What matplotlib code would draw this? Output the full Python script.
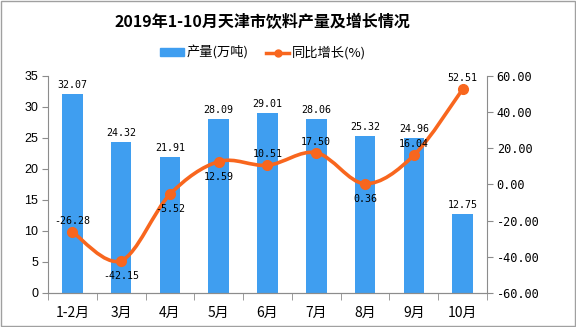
import numpy as np
import matplotlib
matplotlib.use("Agg")
from matplotlib import pyplot as plt
from matplotlib.path import Path
from matplotlib.patches import PathPatch, Rectangle
from matplotlib.lines import Line2D

plt.rcParams['font.family'] = ['Noto Sans CJK SC', 'DejaVu Sans']
plt.rcParams['axes.unicode_minus'] = False

# 数据
months = ["1-2月", "3月", "4月", "5月", "6月", "7月", "8月", "9月", "10月"]
output = [32.07, 24.32, 21.91, 28.09, 29.01, 28.06, 25.32, 24.96, 12.75]
growth = [-26.28, -42.15, -5.52, 12.59, 10.51, 17.50, 0.36, 16.04, 52.51]
# 增长率标签的位置: 上方/下方
growth_pos = ["up", "down", "down", "down", "up", "up", "down", "up", "up"]

bar_color = "#3F9EF0"
line_color = "#F8661E"
axis_color = "#8C8C8C"
num_font = "DejaVu Sans Mono"

fig = plt.figure(figsize=(5.76, 3.27), dpi=100)
ax = fig.add_axes([0.0833, 0.104, 0.7622, 0.6645])
ax2 = ax.twinx()

x = np.arange(len(months))
ax.bar(x, output, width=0.42, color=bar_color, zorder=2)
for xi, v in zip(x, output):
    ax.annotate("%.2f" % v, (xi, v), xytext=(0, 4), textcoords="offset pixels",
                ha="center", va="bottom", fontsize=7.2, family=num_font)

ax.set_xlim(-0.5, len(months) - 0.5)
ax.set_ylim(0, 35)
ax.set_yticks(range(0, 36, 5))
ax.set_xticks(x)
ax.set_xticklabels(months, fontsize=10)
ax.set_xticks(np.arange(-0.5, len(months), 1), minor=True)
ax.tick_params(axis="x", which="major", length=0, pad=9)
ax.tick_params(axis="x", which="minor", length=5, color=axis_color, direction="out")
ax.tick_params(axis="y", length=4, color=axis_color, pad=3)
for t in ax.get_yticklabels():
    t.set_family("Liberation Sans")
    t.set_fontsize(9)

ax2.set_ylim(-60, 60)
ax2.set_yticks(range(-60, 61, 20))
ax2.set_yticklabels(["%.2f" % t for t in range(-60, 61, 20)], family=num_font, fontsize=8.6)
ax2.tick_params(axis="y", length=4, color=axis_color, pad=3)

for a in (ax, ax2):
    a.spines["top"].set_visible(False)
    for s in ("left", "right", "bottom"):
        a.spines[s].set_color(axis_color)
ax.spines["right"].set_visible(False)
ax2.spines["left"].set_visible(False)

# 平滑曲线 (Catmull-Rom -> 三次贝塞尔)
pts = np.column_stack([x, growth]).astype(float)
ext = np.vstack([pts[0], pts, pts[-1]])
verts = [tuple(pts[0])]
codes = [Path.MOVETO]
for i in range(1, len(ext) - 2):
    p0, p1, p2, p3 = ext[i - 1], ext[i], ext[i + 1], ext[i + 2]
    c1 = p1 + (p2 - p0) / 6.0
    c2 = p2 - (p3 - p1) / 6.0
    verts += [tuple(c1), tuple(c2), tuple(p2)]
    codes += [Path.CURVE4] * 3
ax2.add_patch(PathPatch(Path(verts, codes), facecolor="none", edgecolor=line_color,
                        lw=2.6, zorder=3, capstyle="round"))
ax2.plot(x, growth, "o", color=line_color, ms=7, zorder=4)
for xi, v, p in zip(x, growth, growth_pos):
    if p == "up":
        dy, va = 6, "bottom"
    else:
        dy, va = -10, "top"
    ax2.annotate("%.2f" % v, (xi, v), xytext=(0, dy), textcoords="offset pixels",
                 ha="center", va=va, fontsize=7.2, family=num_font)

fig.text(0.456, 0.932, "2019年1-10月天津市饮料产量及增长情况", ha="center", va="center",
         fontsize=11.5, fontweight="bold")

handles = [Rectangle((0, 0), 1, 1, color=bar_color),
           Line2D([], [], color=line_color, lw=2.5, marker="o", ms=5)]
fig.legend(handles, ["产量(万吨)", "同比增长(%)"], loc="center", bbox_to_anchor=(0.457, 0.838),
           ncol=2, frameon=False, fontsize=9.5, handlelength=1.8, handleheight=0.55,
           columnspacing=1.3, handletextpad=0.2)

fig.patches.append(Rectangle((0.001, 0.002), 0.997, 0.995, transform=fig.transFigure,
                             fill=False, edgecolor="#A0A0A0", lw=1))

fig.savefig("out.png", dpi=100)
